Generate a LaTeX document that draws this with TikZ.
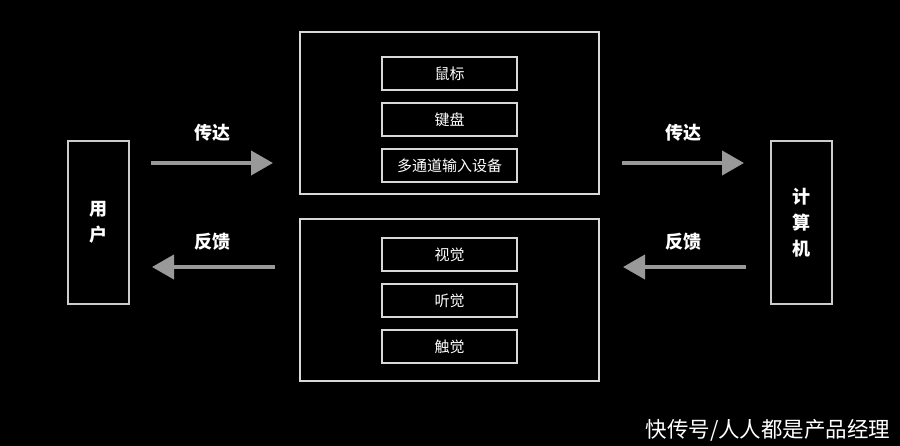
\documentclass[tikz,border=0pt]{standalone}
\usepackage{fontspec}
\setmainfont{Noto Sans CJK SC}
\usetikzlibrary{arrows.meta,positioning}

\begin{document}
\begin{tikzpicture}[
    x=1pt, y=-1pt,
    frame/.style={rectangle, draw=white!85!black, line width=1.2pt, minimum width=299pt, minimum height=162pt},
    item/.style={rectangle, draw=white!85!black, line width=1.2pt, minimum width=135pt, minimum height=33pt, align=center, text=white, font=\fontsize{15}{17}\selectfont},
    side/.style={rectangle, draw=white!80!black, line width=1.2pt, minimum width=61pt, minimum height=163pt, align=center, text=white, font=\fontsize{18}{26}\selectfont\bfseries},
    lbl/.style={text=white, font=\fontsize{18}{20}\selectfont\bfseries},
    arrow/.style={-{Triangle[length=22pt,width=24pt]}, line width=4pt, draw=black!40}
]
\fill[black] (0,0) rectangle (900,446);
\useasboundingbox (0,0) rectangle (900,446);

% Nodes
\node[side] (user) at (98.5,222.5) {用\\户};
\node[side] (pc) at (801.5,222.5) {计\\算\\机};
\node[frame] (input) at (449.5,113) {};
\node[frame] (output) at (449.5,300) {};
\node[item] (mouse) at (449.5,73.5) {鼠标};
\node[item] (keys) at (449.5,119.5) {键盘};
\node[item] (multi) at (449.5,165.5) {多通道输入设备};
\node[item] (sight) at (449.5,254.5) {视觉};
\node[item] (hear) at (449.5,300.5) {听觉};
\node[item] (touch) at (449.5,346.5) {触觉};
\node[lbl] (pass1) at (212,133) {传达};
\node[lbl] (back1) at (212,242) {反馈};
\node[lbl] (pass2) at (683,133) {传达};
\node[lbl] (back2) at (683,242) {反馈};
\node[text=white, font=\fontsize{21.5}{24}\selectfont, anchor=east] (mark) at (894,430) {快传号/人人都是产品经理};

% Arrow ends
\coordinate (a1) at (151,163);
\coordinate (b1) at (273,163);
\coordinate (a2) at (275,267);
\coordinate (b2) at (152,267);
\coordinate (a3) at (622,163);
\coordinate (b3) at (744,163);
\coordinate (a4) at (746,267);
\coordinate (b4) at (623,267);

% Arrows
\draw[arrow] (a1) -- (b1);
\draw[arrow] (a2) -- (b2);
\draw[arrow] (a3) -- (b3);
\draw[arrow] (a4) -- (b4);

\end{tikzpicture}
\end{document}
